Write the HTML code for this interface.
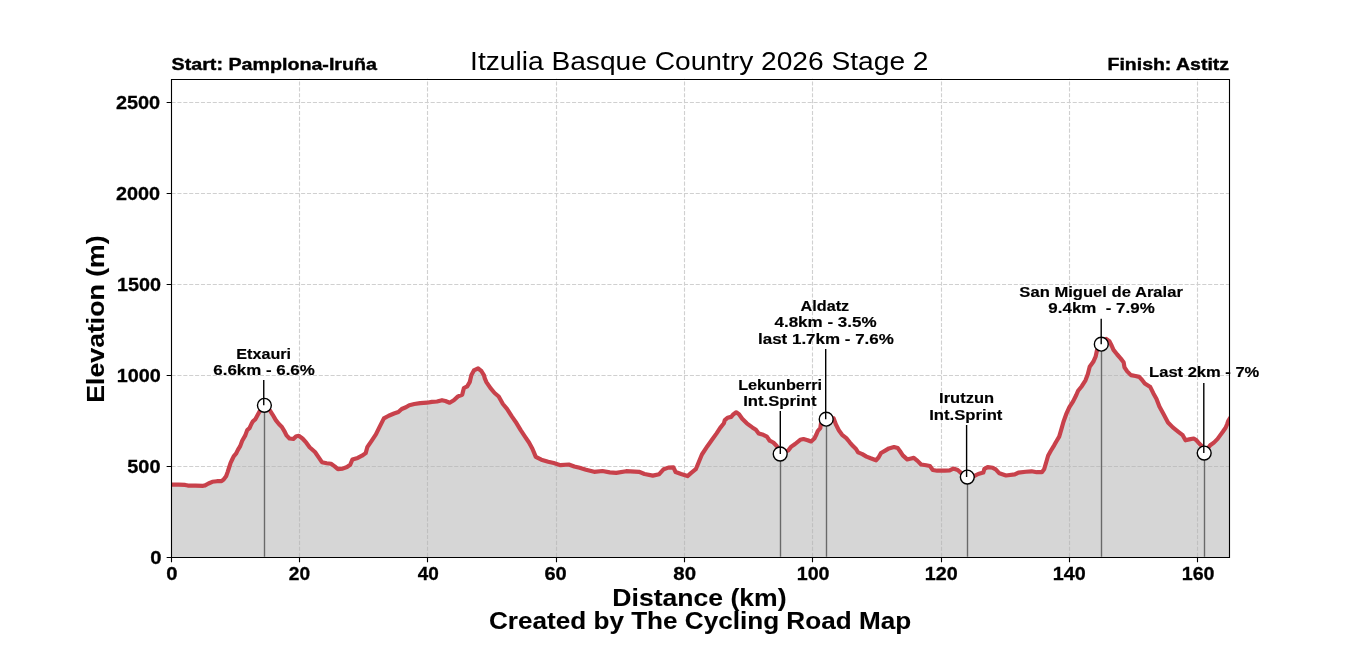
<!DOCTYPE html>
<html><head><meta charset="utf-8"><title>Itzulia Basque Country 2026 Stage 2</title>
<style>html,body{margin:0;padding:0;background:#fff;overflow:hidden}svg{display:block;will-change:transform}text{font-family:"Liberation Sans",sans-serif;white-space:pre}</style></head>
<body>
<svg width="1366" height="655" viewBox="0 0 1366 655">
<defs><clipPath id="ax"><rect x="171" y="78.6" width="1058.4" height="478.9"/></clipPath></defs>
<rect width="1366" height="655" fill="#fff"/>
<g clip-path="url(#ax)">
<polygon points="170.75,484.66 178.7,484.66 185.2,484.9 187.9,485.6 195.5,485.6 203.2,485.8 205.1,485.4 208.5,483.5 212.3,481.8 216.9,481.2 221.5,481.2 223.8,479.3 226.1,476.3 227.6,472.1 229.1,467.5 230.6,462.9 232.2,459.5 233.7,456.4 236,453.7 237.9,449.9 240.2,446.1 242.2,440.7 245.3,435.4 247.2,430.1 249.5,428.2 251.4,424 252.9,421.3 255.2,419.4 257.5,415.2 259.8,411 264.3,405.3 269.7,410.2 272.7,414.8 275.8,420.1 278.9,424 281.9,427 284.2,430.8 286.5,435.4 289.5,438.5 293.4,438.8 296.4,436.2 298.7,435.8 302.5,438.5 306.3,442.7 309.6,447.2 315,452 318.7,457.4 321.9,462.2 326.7,463.2 331,463.8 334.7,466.4 337.9,469.1 342.7,468.6 347,467 350.2,464.8 352.4,459.5 357.7,457.9 362,455.7 365.7,453.1 367.3,447.2 371.6,440.8 375.9,434.4 379.6,426.9 383.9,418.4 388.7,415.7 394,413.5 398.4,412 401.7,409 405.9,407.3 409.3,405.2 414.3,404 420.2,403.1 426.9,402.7 431.9,401.9 437,401.5 442,400.2 445.4,401 449.6,402.7 453.8,400.2 458,396.4 462.2,394.7 463.9,388 467.2,386.3 469.7,382.2 471.4,375 473.9,370.4 478.1,368.3 481.5,371.2 484,375.4 484.8,378.4 486.4,382.1 490.5,388.2 494.6,393 498.7,396.5 502.9,404 507,408.8 511.8,416.4 516.6,423.3 520.7,430.1 524.8,436.3 529,442.5 532.4,448.7 535.8,456.9 541.3,459.7 548.2,461.7 553.7,463.1 560.5,465.2 568.8,464.5 574.3,466.5 579.6,467.8 586,469.7 594.2,471.8 602.4,471 609.8,472.4 616.2,472.9 626.2,471.2 639,471.8 644.5,474 652.8,475.6 659.2,474.2 663.7,469.2 668.3,467.6 673.4,467.4 675.6,472 681.1,474 687.5,476.1 691.2,472.9 695.8,469.2 698.5,462.8 701.9,454.5 707.4,446.2 712,439.8 716.6,433.4 720.2,427.9 723.9,423.3 724.8,420.1 727.5,417.8 731.2,416.9 733.5,414.2 736.2,412.3 739,414.2 742.2,418.7 746.8,423.3 752.3,427.4 755.9,429.7 758.7,433.4 763.3,434.8 766.9,436.6 769.7,440.7 773.3,442.5 776.5,445.8 778.8,449 780.2,454 788.4,450.3 790.9,446.9 795.1,444 800.2,439.8 803.5,439 807.7,440.2 811.1,441.5 814.4,438.5 816.5,434.3 817.8,431 820.3,428.1 820.9,423.9 826.2,419.2 833.7,418.4 835.8,424.3 838.8,430.2 842.1,434.8 846.3,438.1 849.7,442.3 853,446.1 856,449 858.1,452.4 862.3,454.1 866.5,456.6 870.7,458.3 876,460.3 878.5,457.5 881,453 885.2,450.6 888.9,448.4 894,447 897.7,448.1 899.9,451 902.8,455.4 907.2,459.4 910.1,458.7 913.8,457.9 917.5,460.9 921.1,464.5 926.2,465.3 929.9,466 932.8,470 937.2,470.7 944.5,470.7 949.7,470.4 953.3,468.6 957.7,470 961,472.9 967.3,477.1 974.5,475.9 978.2,474 983.3,472.6 984.4,468.9 987.7,467.1 992.8,467.8 995.7,469.3 999.4,473.3 1006,475.5 1014.8,474.4 1018.4,472.6 1025.8,471.8 1031.6,471.3 1036.7,472.2 1041.9,472.2 1044.1,469.3 1046.3,462 1048.1,455.7 1050.7,451 1054.3,445.1 1056,442 1059.2,436.6 1061.4,429.1 1063.5,421.7 1066.2,414.2 1069.4,407.2 1073.1,401.4 1076.3,395 1078.1,390.7 1081.8,386.2 1085.5,380.3 1087.8,374.2 1089.7,366.8 1093.3,361.8 1095.6,356.7 1097,350.3 1101.3,344.2 1106.2,339 1109.4,341.2 1111.7,345.7 1113.5,349.9 1117.2,354.5 1120.8,358.6 1123.6,362.2 1124.5,367.3 1127.2,371.4 1130.9,375.1 1135.5,376 1139.2,376.9 1141.9,379.7 1144.8,383.5 1150.3,387.1 1153.3,393.2 1156.4,398.7 1159.4,406.6 1163.1,413.3 1168,422.5 1172.8,427.4 1179,432.3 1182.7,435.2 1185.5,440.3 1189.2,439.4 1193.7,438.5 1196.5,440.3 1199.2,443.5 1202,446.2 1204.3,453.1 1210.2,445.3 1213.9,442.6 1217.6,438.9 1219.4,436.4 1222.8,431.8 1225.6,427.8 1227.2,424 1228.3,420.8 1229.4,419 1232.4,557.5 170.75,557.5" fill="#d6d6d6"/>
<path d="M171.5 102.5H1229.4M171.5 193.5H1229.4M171.5 284.5H1229.4M171.5 375.5H1229.4M171.5 466.5H1229.4M299.5 556.75V78.6M427.5 556.75V78.6M556.5 556.75V78.6M684.5 556.75V78.6M812.5 556.75V78.6M941.5 556.75V78.6M1069.5 556.75V78.6M1197.5 556.75V78.6" stroke="#b0b0b0" stroke-opacity="0.6" stroke-width="1.11" stroke-dasharray="4.11 1.78" fill="none"/>
<path d="M264.5 556.75V405.35M780.5 556.75V454M826.5 556.75V419.2M967.5 556.75V477.1M1101.5 556.75V344.15M1204.5 556.75V453.1" stroke="#696969" stroke-width="1.39" fill="none"/>
<polyline points="170.75,484.66 178.7,484.66 185.2,484.9 187.9,485.6 195.5,485.6 203.2,485.8 205.1,485.4 208.5,483.5 212.3,481.8 216.9,481.2 221.5,481.2 223.8,479.3 226.1,476.3 227.6,472.1 229.1,467.5 230.6,462.9 232.2,459.5 233.7,456.4 236,453.7 237.9,449.9 240.2,446.1 242.2,440.7 245.3,435.4 247.2,430.1 249.5,428.2 251.4,424 252.9,421.3 255.2,419.4 257.5,415.2 259.8,411 264.3,405.3 269.7,410.2 272.7,414.8 275.8,420.1 278.9,424 281.9,427 284.2,430.8 286.5,435.4 289.5,438.5 293.4,438.8 296.4,436.2 298.7,435.8 302.5,438.5 306.3,442.7 309.6,447.2 315,452 318.7,457.4 321.9,462.2 326.7,463.2 331,463.8 334.7,466.4 337.9,469.1 342.7,468.6 347,467 350.2,464.8 352.4,459.5 357.7,457.9 362,455.7 365.7,453.1 367.3,447.2 371.6,440.8 375.9,434.4 379.6,426.9 383.9,418.4 388.7,415.7 394,413.5 398.4,412 401.7,409 405.9,407.3 409.3,405.2 414.3,404 420.2,403.1 426.9,402.7 431.9,401.9 437,401.5 442,400.2 445.4,401 449.6,402.7 453.8,400.2 458,396.4 462.2,394.7 463.9,388 467.2,386.3 469.7,382.2 471.4,375 473.9,370.4 478.1,368.3 481.5,371.2 484,375.4 484.8,378.4 486.4,382.1 490.5,388.2 494.6,393 498.7,396.5 502.9,404 507,408.8 511.8,416.4 516.6,423.3 520.7,430.1 524.8,436.3 529,442.5 532.4,448.7 535.8,456.9 541.3,459.7 548.2,461.7 553.7,463.1 560.5,465.2 568.8,464.5 574.3,466.5 579.6,467.8 586,469.7 594.2,471.8 602.4,471 609.8,472.4 616.2,472.9 626.2,471.2 639,471.8 644.5,474 652.8,475.6 659.2,474.2 663.7,469.2 668.3,467.6 673.4,467.4 675.6,472 681.1,474 687.5,476.1 691.2,472.9 695.8,469.2 698.5,462.8 701.9,454.5 707.4,446.2 712,439.8 716.6,433.4 720.2,427.9 723.9,423.3 724.8,420.1 727.5,417.8 731.2,416.9 733.5,414.2 736.2,412.3 739,414.2 742.2,418.7 746.8,423.3 752.3,427.4 755.9,429.7 758.7,433.4 763.3,434.8 766.9,436.6 769.7,440.7 773.3,442.5 776.5,445.8 778.8,449 780.2,454 788.4,450.3 790.9,446.9 795.1,444 800.2,439.8 803.5,439 807.7,440.2 811.1,441.5 814.4,438.5 816.5,434.3 817.8,431 820.3,428.1 820.9,423.9 826.2,419.2 833.7,418.4 835.8,424.3 838.8,430.2 842.1,434.8 846.3,438.1 849.7,442.3 853,446.1 856,449 858.1,452.4 862.3,454.1 866.5,456.6 870.7,458.3 876,460.3 878.5,457.5 881,453 885.2,450.6 888.9,448.4 894,447 897.7,448.1 899.9,451 902.8,455.4 907.2,459.4 910.1,458.7 913.8,457.9 917.5,460.9 921.1,464.5 926.2,465.3 929.9,466 932.8,470 937.2,470.7 944.5,470.7 949.7,470.4 953.3,468.6 957.7,470 961,472.9 967.3,477.1 974.5,475.9 978.2,474 983.3,472.6 984.4,468.9 987.7,467.1 992.8,467.8 995.7,469.3 999.4,473.3 1006,475.5 1014.8,474.4 1018.4,472.6 1025.8,471.8 1031.6,471.3 1036.7,472.2 1041.9,472.2 1044.1,469.3 1046.3,462 1048.1,455.7 1050.7,451 1054.3,445.1 1056,442 1059.2,436.6 1061.4,429.1 1063.5,421.7 1066.2,414.2 1069.4,407.2 1073.1,401.4 1076.3,395 1078.1,390.7 1081.8,386.2 1085.5,380.3 1087.8,374.2 1089.7,366.8 1093.3,361.8 1095.6,356.7 1097,350.3 1101.3,344.2 1106.2,339 1109.4,341.2 1111.7,345.7 1113.5,349.9 1117.2,354.5 1120.8,358.6 1123.6,362.2 1124.5,367.3 1127.2,371.4 1130.9,375.1 1135.5,376 1139.2,376.9 1141.9,379.7 1144.8,383.5 1150.3,387.1 1153.3,393.2 1156.4,398.7 1159.4,406.6 1163.1,413.3 1168,422.5 1172.8,427.4 1179,432.3 1182.7,435.2 1185.5,440.3 1189.2,439.4 1193.7,438.5 1196.5,440.3 1199.2,443.5 1202,446.2 1204.3,453.1 1210.2,445.3 1213.9,442.6 1217.6,438.9 1219.4,436.4 1222.8,431.8 1225.6,427.8 1227.2,424 1228.3,420.8 1229.4,419" fill="none" stroke="#c8414b" stroke-width="4.17" stroke-linejoin="round" stroke-linecap="square"/>
</g>
<circle cx="264.4" cy="405.35" r="6.94" fill="#fff" stroke="#000" stroke-width="1.39"/>
<circle cx="780.2" cy="454" r="6.94" fill="#fff" stroke="#000" stroke-width="1.39"/>
<circle cx="826.2" cy="419.2" r="6.94" fill="#fff" stroke="#000" stroke-width="1.39"/>
<circle cx="967.3" cy="477.1" r="6.94" fill="#fff" stroke="#000" stroke-width="1.39"/>
<circle cx="1101.3" cy="344.15" r="6.94" fill="#fff" stroke="#000" stroke-width="1.39"/>
<circle cx="1204.2" cy="453.1" r="6.94" fill="#fff" stroke="#000" stroke-width="1.39"/>
<path d="M263.75 380.1V405.35M780.3 411V454M825.7 349V419.2M966.6 425.1V477.1M1101.2 318.8V344.15M1203.8 383V453.1" stroke="#000" stroke-width="1.39" fill="none"/>
<path d="M171.5 79.5V557.5M1229.5 79.5V557.5M171.5 79.5H1229.5M171.5 557.5H1229.5" stroke="#000" stroke-width="1.11" fill="none" stroke-linecap="square"/>
<path d="M166.64 102.5H171.5M166.64 193.5H171.5M166.64 284.5H171.5M166.64 375.5H171.5M166.64 466.5H171.5M166.64 557.5H171.5M171.5 557.5V562.36M299.5 557.5V562.36M427.5 557.5V562.36M556.5 557.5V562.36M684.5 557.5V562.36M812.5 557.5V562.36M941.5 557.5V562.36M1069.5 557.5V562.36M1197.5 557.5V562.36" stroke="#000" stroke-width="1.11" fill="none"/>
<text id="title" font-size="26.12" font-weight="normal" text-anchor="middle" textLength="458.4" lengthAdjust="spacingAndGlyphs" x="699.31" y="70">Itzulia Basque Country 2026 Stage 2</text>
<text id="st" font-size="17.42" font-weight="bold" text-anchor="middle" textLength="205.36" lengthAdjust="spacingAndGlyphs" stroke="#000" stroke-width="0.42" x="274.28" y="70">Start: Pamplona-Iruña</text>
<text id="fin" font-size="17.42" font-weight="bold" text-anchor="middle" textLength="121.51" lengthAdjust="spacingAndGlyphs" stroke="#000" stroke-width="0.42" x="1168.29" y="70">Finish: Astitz</text>
<text id="xl3" font-size="23.22" font-weight="bold" text-anchor="middle" textLength="174.28" lengthAdjust="spacingAndGlyphs" stroke="#000" stroke-width="0.09" x="699.46" y="606">Distance (km)</text>
<text id="xl4" font-size="23.22" font-weight="bold" text-anchor="middle" textLength="422.1" lengthAdjust="spacingAndGlyphs" stroke="#000" stroke-width="0.09" x="700.06" y="629">Created by The Cycling Road Map</text>
<text id="ylabel" font-size="23.22" font-weight="bold" text-anchor="middle" textLength="167.36" lengthAdjust="spacingAndGlyphs" stroke="#000" stroke-width="0.09" transform="translate(104.12 319.02) rotate(-90)">Elevation (m)</text>
<text id="an6" font-size="14.51" font-weight="bold" text-anchor="middle" textLength="54.7" lengthAdjust="spacingAndGlyphs" stroke="#000" stroke-width="0.16" x="263.69" y="359">Etxauri</text>
<text id="an7" font-size="14.51" font-weight="bold" text-anchor="middle" textLength="101.48" lengthAdjust="spacingAndGlyphs" stroke="#000" stroke-width="0.16" x="264.07" y="375">6.6km - 6.6%</text>
<text id="an8" font-size="14.51" font-weight="bold" text-anchor="middle" textLength="83.93" lengthAdjust="spacingAndGlyphs" stroke="#000" stroke-width="0.16" x="780.09" y="390">Lekunberri</text>
<text id="an9" font-size="14.51" font-weight="bold" text-anchor="middle" textLength="73.3" lengthAdjust="spacingAndGlyphs" stroke="#000" stroke-width="0.16" x="779.82" y="406">Int.Sprint</text>
<text id="an10" font-size="14.51" font-weight="bold" text-anchor="middle" textLength="48.55" lengthAdjust="spacingAndGlyphs" stroke="#000" stroke-width="0.16" x="824.91" y="311">Aldatz</text>
<text id="an11" font-size="14.51" font-weight="bold" text-anchor="middle" textLength="102.03" lengthAdjust="spacingAndGlyphs" stroke="#000" stroke-width="0.16" x="825.51" y="327">4.8km - 3.5%</text>
<text id="an12" font-size="14.51" font-weight="bold" text-anchor="middle" textLength="135.8" lengthAdjust="spacingAndGlyphs" stroke="#000" stroke-width="0.16" x="825.92" y="344">last 1.7km - 7.6%</text>
<text id="an13" font-size="14.51" font-weight="bold" text-anchor="middle" textLength="54.96" lengthAdjust="spacingAndGlyphs" stroke="#000" stroke-width="0.16" x="966.58" y="403">Irutzun</text>
<text id="an14" font-size="14.51" font-weight="bold" text-anchor="middle" textLength="73.28" lengthAdjust="spacingAndGlyphs" stroke="#000" stroke-width="0.16" x="965.81" y="420">Int.Sprint</text>
<text id="an15" font-size="14.51" font-weight="bold" text-anchor="middle" textLength="163.55" lengthAdjust="spacingAndGlyphs" stroke="#000" stroke-width="0.16" x="1101.11" y="297">San Miguel de Aralar</text>
<text id="an16" font-size="14.51" font-weight="bold" text-anchor="middle" textLength="106.32" lengthAdjust="spacingAndGlyphs" stroke="#000" stroke-width="0.16" x="1101.54" y="313">9.4km  - 7.9%</text>
<text id="an17" font-size="14.51" font-weight="bold" text-anchor="middle" textLength="110.19" lengthAdjust="spacingAndGlyphs" stroke="#000" stroke-width="0.16" x="1204.21" y="377">Last 2km - 7%</text>
<text id="xt0" font-size="17.72" font-weight="bold" text-anchor="middle" textLength="11.25" lengthAdjust="spacingAndGlyphs" stroke="#000" stroke-width="0.28" x="171.89" y="580">0</text>
<text id="xt20" font-size="17.72" font-weight="bold" text-anchor="middle" textLength="21.26" lengthAdjust="spacingAndGlyphs" stroke="#000" stroke-width="0.28" x="299.49" y="580">20</text>
<text id="xt40" font-size="17.72" font-weight="bold" text-anchor="middle" textLength="21.09" lengthAdjust="spacingAndGlyphs" stroke="#000" stroke-width="0.28" x="428.36" y="580">40</text>
<text id="xt60" font-size="17.72" font-weight="bold" text-anchor="middle" textLength="22.27" lengthAdjust="spacingAndGlyphs" stroke="#000" stroke-width="0.28" x="555.55" y="580">60</text>
<text id="xt80" font-size="17.72" font-weight="bold" text-anchor="middle" textLength="22.69" lengthAdjust="spacingAndGlyphs" stroke="#000" stroke-width="0.28" x="684.69" y="580">80</text>
<text id="xt100" font-size="17.72" font-weight="bold" text-anchor="middle" textLength="32.79" lengthAdjust="spacingAndGlyphs" stroke="#000" stroke-width="0.28" x="813.16" y="580">100</text>
<text id="xt120" font-size="17.72" font-weight="bold" text-anchor="middle" textLength="32.87" lengthAdjust="spacingAndGlyphs" stroke="#000" stroke-width="0.28" x="941.2" y="580">120</text>
<text id="xt140" font-size="17.72" font-weight="bold" text-anchor="middle" textLength="32.87" lengthAdjust="spacingAndGlyphs" stroke="#000" stroke-width="0.28" x="1069.2" y="580">140</text>
<text id="xt160" font-size="17.72" font-weight="bold" text-anchor="middle" textLength="32.79" lengthAdjust="spacingAndGlyphs" stroke="#000" stroke-width="0.28" x="1198.16" y="580">160</text>
<text id="yt0" font-size="17.72" font-weight="bold" text-anchor="middle" textLength="11.25" lengthAdjust="spacingAndGlyphs" stroke="#000" stroke-width="0.28" x="155.89" y="564">0</text>
<text id="yt500" font-size="17.72" font-weight="bold" text-anchor="middle" textLength="33.14" lengthAdjust="spacingAndGlyphs" stroke="#000" stroke-width="0.28" x="143.9" y="473">500</text>
<text id="yt1000" font-size="17.72" font-weight="bold" text-anchor="middle" textLength="44.02" lengthAdjust="spacingAndGlyphs" stroke="#000" stroke-width="0.28" x="138.7" y="382">1000</text>
<text id="yt1500" font-size="17.72" font-weight="bold" text-anchor="middle" textLength="43.93" lengthAdjust="spacingAndGlyphs" stroke="#000" stroke-width="0.28" x="139" y="291">1500</text>
<text id="yt2000" font-size="17.72" font-weight="bold" text-anchor="middle" textLength="44" lengthAdjust="spacingAndGlyphs" stroke="#000" stroke-width="0.28" x="137.93" y="200">2000</text>
<text id="yt2500" font-size="17.72" font-weight="bold" text-anchor="middle" textLength="44.18" lengthAdjust="spacingAndGlyphs" stroke="#000" stroke-width="0.28" x="138.06" y="109">2500</text>
</svg>
</body></html>
